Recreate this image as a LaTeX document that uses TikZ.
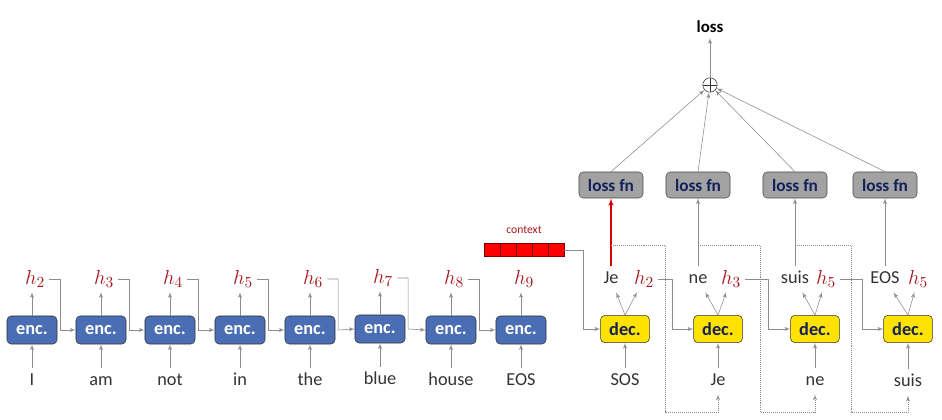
\documentclass[tikz,border=0pt]{standalone}
\usepackage{fontspec}
\setmainfont{Carlito}
\usepackage{xcolor}
\usepackage{tikz}
\usetikzlibrary{shapes,arrows}

\definecolor{encblue}{HTML}{4A6DB4}
\definecolor{decyellow}{HTML}{FFE200}
\definecolor{lossgray}{HTML}{A2A2A2}
\definecolor{navytext}{HTML}{13205A}
\definecolor{hred}{HTML}{A8161E}
\definecolor{wire}{HTML}{8C8C8C}

\begin{document}
\begin{tikzpicture}[x=0.025cm, y=-0.025cm, >=latex']
    \tikzstyle{enc} = [rectangle, draw=black!80, fill=encblue, text=white,
        font=\fontsize{13}{15}\selectfont\bfseries, rounded corners=3pt,
        minimum width=1.25cm, minimum height=0.7cm]
    \tikzstyle{dec} = [rectangle, draw=black!80, fill=decyellow, text=navytext,
        font=\fontsize{13}{15}\selectfont\bfseries, rounded corners=3pt,
        minimum width=1.22cm, minimum height=0.68cm]
    \tikzstyle{lossfn} = [rectangle, draw=black!70, fill=lossgray, text=navytext,
        font=\fontsize{12.3}{15}\selectfont\bfseries, rounded corners=3pt,
        minimum width=1.6cm, minimum height=0.65cm]
    \tikzstyle{word} = [font=\fontsize{13}{15}\selectfont, text=black!80,
        text height=8.5pt, text depth=2.6pt, inner sep=3.8pt]
    \tikzstyle{hlab} = [text=hred, font=\fontsize{15}{17}\selectfont, inner sep=3pt]
    \tikzstyle{cell} = [rectangle, draw=red!50!black, fill=red, inner sep=0pt,
        minimum width=0.4cm, minimum height=0.325cm]
    \tikzstyle{line} = [draw, wire, -latex']
    \tikzstyle{feed} = [draw, wire, densely dotted, -latex']

    \useasboundingbox (0,0) rectangle (942,420);

    % encoder
    \node [enc] (e1) at (32,330) {enc.};
    \node [enc] (e2) at (101,330) {enc.};
    \node [enc] (e3) at (170,330) {enc.};
    \node [enc] (e4) at (240,330) {enc.};
    \node [enc] (e5) at (310,330) {enc.};
    \node [enc] (e6) at (380,329) {enc.};
    \node [enc] (e7) at (451,330) {enc.};
    \node [enc] (e8) at (521,330) {enc.};

    \node [word] (w1) at (32,381) {I};
    \node [word] (w2) at (101,381) {am};
    \node [word] (w3) at (170,381) {not};
    \node [word] (w4) at (240,381) {in};
    \node [word] (w5) at (310,381) {the};
    \node [word] (w6) at (380,380) {blue};
    \node [word] (w7) at (451,381) {house};
    \node [word] (w8) at (521,381) {EOS};

    \node [hlab] (h2) at (35,279) {$h_2$};
    \node [hlab] (h3) at (104,279) {$h_3$};
    \node [hlab] (h4) at (173,279) {$h_4$};
    \node [hlab] (h5) at (243,279) {$h_5$};
    \node [hlab] (h6) at (313,279) {$h_6$};
    \node [hlab] (h7) at (383,278) {$h_7$};
    \node [hlab] (h8) at (454,279) {$h_8$};
    \node [hlab] (h9) at (524,279) {$h_9$};

    \path [line] (w1) -- (e1);
    \path [line] (w2) -- (e2);
    \path [line] (w3) -- (e3);
    \path [line] (w4) -- (e4);
    \path [line] (w5) -- (e5);
    \path [line] (w6) -- (e6);
    \path [line] (w7) -- (e7);
    \path [line] (w8) -- (e8);

    \path [line] (e1) -- (e1 |- h2.south);
    \path [line] (e2) -- (e2 |- h3.south);
    \path [line] (e3) -- (e3 |- h4.south);
    \path [line] (e4) -- (e4 |- h5.south);
    \path [line] (e5) -- (e5 |- h6.south);
    \path [line] (e6) -- (e6 |- h7.south);
    \path [line] (e7) -- (e7 |- h8.south);
    \path [line] (e8) -- (e8 |- h9.south);

    \path [line] (h2.east) -| ([xshift=2pt]e1.east) -- (e2.west);
    \path [line] (h3.east) -| ([xshift=2pt]e2.east) -- (e3.west);
    \path [line] (h4.east) -| ([xshift=2pt]e3.east) -- (e4.west);
    \path [line] (h5.east) -| ([xshift=2pt]e4.east) -- (e5.west);
    \path [line] (h6.east) -| ([xshift=2pt]e5.east) -- (e6.west);
    \path [line] (h7.east) -| ([xshift=2pt]e6.east) -- (e7.west);
    \path [line] (h8.east) -| ([xshift=2pt]e7.east) -- (e8.west);

    % context vector
    \foreach \i in {1,...,5}
        \node [cell] (c\i) at (476+16*\i,250) {};
    \node [text=hred, font=\fontsize{8.3}{10}\selectfont] (ctx) at (524,230) {context};

    % decoder
    \node [dec] (d1) at (625,329) {dec.};
    \node [dec] (d2) at (718,329) {dec.};
    \node [dec] (d3) at (815,329) {dec.};
    \node [dec] (d4) at (908,329) {dec.};

    \node [word] (s1) at (625,381) {SOS};
    \node [word] (s2) at (718,381) {Je};
    \node [word] (s3) at (815,381) {ne};
    \node [word] (s4) at (908,382) {suis};

    \node [word] (o1) at (611,279) {Je};
    \node [word] (o2) at (698,279) {ne};
    \node [word] (o3) at (795,279) {suis};
    \node [word] (o4) at (885,279) {EOS};

    \node [hlab] (g2) at (644,279) {$h_2$};
    \node [hlab] (g3) at (731,279) {$h_3$};
    \node [hlab] (g5) at (826,279) {$h_5$};
    \node [hlab] (g6) at (918,279) {$h_5$};

    \node [lossfn] (l1) at (611,185) {loss fn};
    \node [lossfn] (l2) at (698,185) {loss fn};
    \node [lossfn] (l3) at (795,185) {loss fn};
    \node [lossfn] (l4) at (885,185) {loss fn};

    \node [circle, draw=black!80, inner sep=0pt, minimum size=0.36cm,
        path picture={\draw[black!80] (path picture bounding box.north) -- (path picture bounding box.south)
        (path picture bounding box.west) -- (path picture bounding box.east);}] (sum) at (710,85) {};
    \node [font=\fontsize{12}{14}\selectfont\bfseries] (loss) at (710,27) {loss};

    \path [line] (c5.east) -| ([xshift=-12pt]d1.west) -- (d1.west);
    \path [line] (g2.east) -| ([xshift=-15pt]d2.west) -- (d2.west);
    \path [line] (g3.east) -| ([xshift=-16pt]d3.west) -- (d3.west);
    \path [line] (g5.east) -| ([xshift=-15pt]d4.west) -- (d4.west);

    \path [line] (s1) -- (d1);
    \path [line] (s2) -- (d2);
    \path [line] (s3) -- (d3);
    \path [line] (s4) -- (d4);

    \path [line] (d1.north) -- (o1);
    \path [line] (d1.north) -- (g2);
    \path [line] (d2.north) -- (o2);
    \path [line] (d2.north) -- (g3);
    \path [line] (d3.north) -- (o3);
    \path [line] (d3.north) -- (g5);
    \path [line] (d4.north) -- (o4);
    \path [line] (d4.north) -- (g6);

    \path [draw, red!85!black, line width=0.8pt, -latex'] (o1) -- (l1);
    \path [line] (o2) -- (l2);
    \path [line] (o3) -- (l3);
    \path [line] (o4) -- (l4);

    \path [line] (l1.north) -- (sum);
    \path [line] (l2.north) -- (sum);
    \path [line] (l3.north) -- (sum);
    \path [line] (l4.north) -- (sum);
    \path [line] (sum) -- (loss);

    % fed back outputs
    \coordinate (t1) at (611,245);
    \coordinate (t2) at (698,245);
    \coordinate (t3) at (795,245);
    \coordinate (f1) at (665,412);
    \coordinate (f2) at (760,412);
    \coordinate (f3) at (851,412);
    \path [feed] (t1) -| (f1) -| (s2);
    \path [feed] (t2) -| (f2) -| (s3);
    \path [feed] (t3) -| (f3) -| (s4);
\end{tikzpicture}
\end{document}
